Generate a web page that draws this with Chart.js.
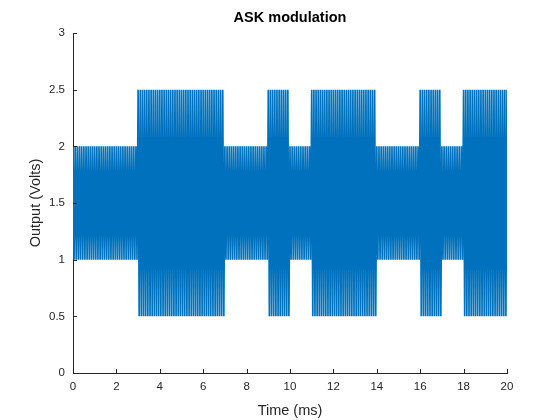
<!DOCTYPE html>
<html>
<head>
<meta charset="utf-8">
<script src="https://cdn.jsdelivr.net/npm/chart.js@4"></script>
<style>
  body { margin: 0; background: #fff; }
  canvas { display: block; }
</style>
</head>
<body>
<canvas id="ask" width="560" height="420"></canvas>
<script>
// one bit per millisecond
const bits = [0, 0, 0, 1, 1, 1, 1, 0, 0, 1, 0, 1, 1, 1, 0, 0, 1, 0, 1, 1];
// envelope top / bottom (Volts) for bit 0 and bit 1
const highLevels = [2.0, 2.5];
const lowLevels = [1.0, 0.5];
// carrier cycles per ms (dense, ~2 px per cycle in the picture)
const carrierPerMs = 10;

const xTicks = [0, 2, 4, 6, 8, 10, 12, 14, 16, 18, 20];
const yTicks = [0, 0.5, 1, 1.5, 2, 2.5, 3];

// carrier peaks and troughs, alternating between the bit's envelope levels
const points = [];
const halfCycles = bits.length * carrierPerMs * 2;
for (let k = 0; k <= halfCycles; k++) {
    const t = k / (carrierPerMs * 2);
    const b = bits[Math.min(Math.floor(t), bits.length - 1)];
    points.push({ x: t, y: k % 2 === 0 ? highLevels[b] : lowLevels[b] });
}

const font = "'Liberation Sans', Arial, Helvetica, sans-serif";
const axisColor = "#262626";

// MATLAB style ticks pointing into the axes, title centred over the axes
const matlabBits = {
    id: "matlabBits",
    afterDraw(chart) {
        const ctx = chart.ctx;
        const xs = chart.scales.x;
        const ys = chart.scales.y;
        ctx.save();
        ctx.strokeStyle = axisColor;
        ctx.lineWidth = 1;
        ctx.beginPath();
        xTicks.forEach(v => {
            const px = Math.round(xs.getPixelForValue(v)) + 0.5;
            ctx.moveTo(px, ys.bottom);
            ctx.lineTo(px, ys.bottom - 4);
        });
        yTicks.forEach(v => {
            const py = Math.round(ys.getPixelForValue(v)) + 0.5;
            ctx.moveTo(xs.left, py);
            ctx.lineTo(xs.left + 4, py);
        });
        ctx.stroke();

        ctx.fillStyle = "#000";
        ctx.font = "bold 14.5px " + font;
        ctx.textAlign = "center";
        ctx.textBaseline = "middle";
        const area = chart.chartArea;
        ctx.fillText("ASK modulation", (area.left + area.right) / 2, 18);
        ctx.restore();
    }
};

const ask = new Chart("ask", {
    type: "line",
    data: {
        datasets: [{
            label: "ASK",
            data: points,
            borderColor: "#0072BD",
            borderWidth: 1.7,
            pointRadius: 0,
            tension: 0,
            fill: false
        }]
    },
    options: {
        responsive: false,
        animation: false,
        devicePixelRatio: 1,
        layout: { padding: { left: 0, right: 53, top: 33, bottom: 0 } },
        plugins: {
            legend: { display: false },
            tooltip: { enabled: false },
            title: { display: false }
        },
        scales: {
            x: {
                type: "linear",
                min: 0,
                max: 20,
                afterBuildTicks: s => { s.ticks = xTicks.map(v => ({ value: v })); },
                afterFit: s => { s.height = 47; },
                grid: { display: false, drawTicks: false },
                border: { display: true, color: axisColor, width: 1 },
                ticks: {
                    color: axisColor,
                    padding: 7,
                    maxRotation: 0,
                    font: { family: font, size: 11.5 },
                    callback: v => String(v)
                },
                title: {
                    display: true,
                    text: "Time (ms)",
                    color: axisColor,
                    font: { family: font, size: 14.5 },
                    padding: { top: 4, bottom: 0 }
                }
            },
            y: {
                type: "linear",
                min: 0,
                max: 3,
                afterBuildTicks: s => { s.ticks = yTicks.map(v => ({ value: v })); },
                afterFit: s => { s.width = 73; },
                grid: { display: false, drawTicks: false },
                border: { display: true, color: axisColor, width: 1 },
                ticks: {
                    color: axisColor,
                    padding: 8,
                    font: { family: font, size: 11.5 },
                    callback: v => String(v)
                },
                title: {
                    display: true,
                    text: "Output (Volts)",
                    color: axisColor,
                    font: { family: font, size: 14.5 },
                    padding: { top: 27, bottom: 0 }
                }
            }
        }
    },
    plugins: [matlabBits]
});
</script>
</body>
</html>
